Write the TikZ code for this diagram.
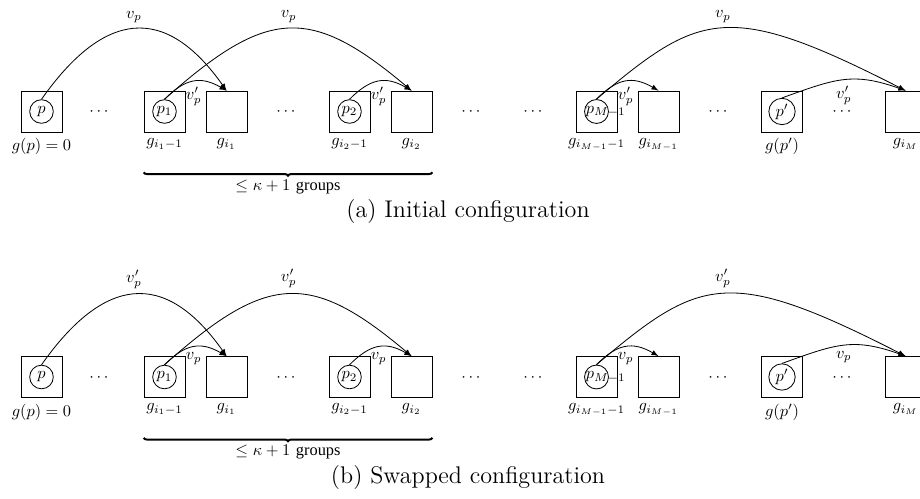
\documentclass[tikz,border=0pt]{standalone}
\usepackage{fontspec}
\usetikzlibrary{calc,decorations.pathreplacing}
\newfontfamily\grpfont{Liberation Serif}
\tikzset{
  grp/.style={draw,minimum size=25pt,inner sep=0pt},
  pnt/.style={draw,circle,minimum size=14pt,inner sep=0pt,text width=13pt,align=center},
  arc/.style={->,>=latex},
}
\begin{document}
\begin{tikzpicture}[x=0.61pt,y=0.61pt,line width=0.5pt]
    \clip (0,111.5) rectangle (920,-387.5);
    \foreach \r/\yy/\vbig/\vsmall/\cap in {a/0/v_p/v'_p/Initial, b/-265.5/v'_p/v_p/Swapped}{
    \begin{scope}[shift={(0,\yy)}]
    % groups
    \node[grp,label={below:$g(p)=0$}] (bp-\r) at (41.5,0) {};
    \node[grp,label={below:$g_{i_1-1}$}] (bp1-\r) at (164.5,0) {};
    \node[grp,label={below:$g_{i_1}$}] (bg1-\r) at (226.5,0) {};
    \node[grp,label={below:$g_{i_2-1}$}] (bp2-\r) at (349.5,0) {};
    \node[grp,label={below:$g_{i_2}$}] (bg2-\r) at (411.5,0) {};
    \node[grp,label={below:$g_{i_{M-1}-1}$}] (bpM-\r) at (596.5,0) {};
    \node[grp,label={below:$g_{i_{M-1}}$}] (bgM1-\r) at (658.5,0) {};
    \node[grp,label={below:$g(p')$}] (bq-\r) at (782,0) {};
    \node[grp,label={below:$g_{i_M}$}] (bgM-\r) at (905.5,0) {};
    % points
    \node[pnt] (cp-\r) at (bp-\r) {$p$};
    \node[pnt] (cp1-\r) at (bp1-\r) {$p_1$};
    \node[pnt] (cp2-\r) at (bp2-\r) {$p_2$};
    \node[pnt] (cpM-\r) at (bpM-\r) {$p_{M-1}$};
    \node[pnt] (cq-\r) at (bq-\r) {$p'$};
    \foreach \x in {99,286,471,533,718,842}
        \node[anchor=base] (dots-\r-\x) at (\x,-4.3) {$\cdots$};
    % moves
    \draw[arc] (cp-\r.north) .. controls +(62,88) and +(-62,88) .. (bg1-\r.north) node[midway,above] {$\vbig$};
    \draw[arc] (cp1-\r.north) .. controls +(103,92) and +(-101,85) .. (bg2-\r.north) node[midway,above] {$\vbig$};
    \draw[arc] (cpM-\r.north) .. controls +(103,87) and +(-178,91) .. (bgM-\r.north) node[midway,above] {$\vbig$};
    \draw[arc] (cp1-\r.north) .. controls +(21,21) and +(-26,15) .. (bg1-\r.north) node[midway,below] {$\vsmall$};
    \draw[arc] (cp2-\r.north) .. controls +(21,21) and +(-26,15) .. (bg2-\r.north) node[midway,below] {$\vsmall$};
    \draw[arc] (cpM-\r.north) .. controls +(21,21) and +(-26,15) .. (bgM1-\r.north) node[midway,below] {$\vsmall$};
    \draw[arc] (cq-\r.north) .. controls +(53,19) and +(-53,19) .. (bgM-\r.north) node[midway,below] {$\vsmall$};
    % brace
    \draw[decorate,decoration={brace,mirror,amplitude=2pt},very thick]
        ($(bp1-\r.south west)+(0,-40)$) -- ($(bg2-\r.south east)+(0,-40)$)
        node[midway,below,yshift=-1pt,line width=0.5pt] (kap-\r) {$\le\kappa+1$ {\grpfont groups}};
    \node[anchor=base,font=\fontsize{14.7}{17}\selectfont] (cap-\r) at (468,-106.5) {(\r) \cap\ configuration};
    \end{scope}}
\end{tikzpicture}
\end{document}
